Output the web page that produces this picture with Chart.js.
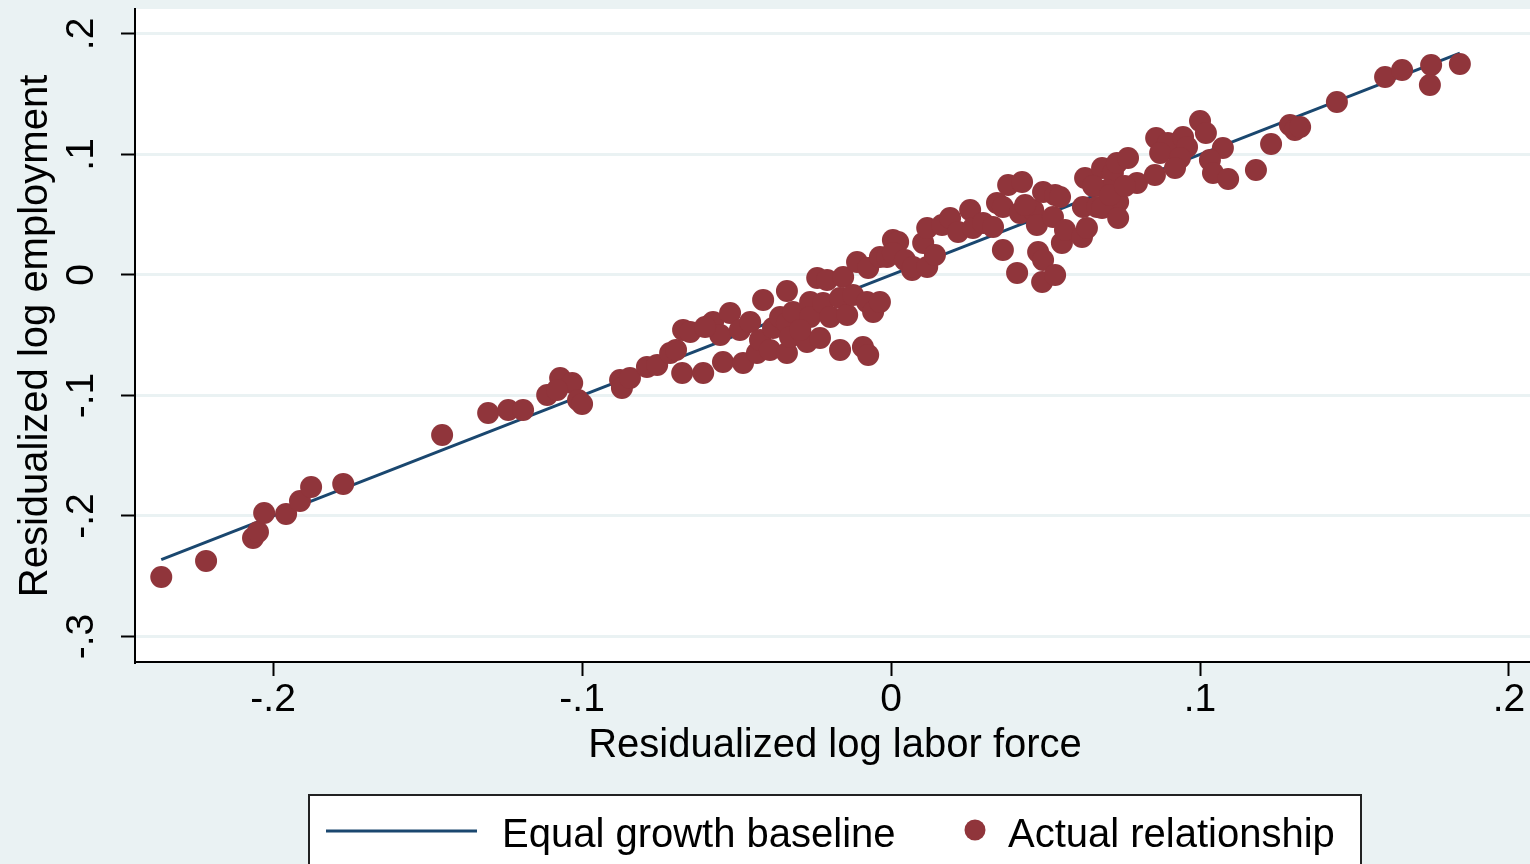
<!DOCTYPE html>
<html>
<head>
<meta charset="utf-8">
<script src="https://cdn.jsdelivr.net/npm/chart.js@4.4.1/dist/chart.umd.min.js"></script>
<style>
  html, body { margin: 0; padding: 0; background: #EAF2F3; }
  #wrap { width: 1530px; height: 864px; }
</style>
</head>
<body>
<div id="wrap"><canvas id="chart"></canvas></div>
<script>
// residualized log labor force (x) and log employment (y), one pair per point
const laborX = [
  -0.2362, -0.2217, -0.2065, -0.2049, -0.2029, -0.1958, -0.1913, -0.1877, -0.1773, -0.1453,
  -0.1304, -0.1239, -0.1191, -0.1113, -0.1071, -0.1032, -0.1081, -0.1013, -0.1000, -0.0877,
  -0.0871, -0.0845, -0.0790, -0.0757, -0.0715, -0.0676, -0.0696, -0.0673, -0.0650, -0.0608,
  -0.0586, -0.0576, -0.0553, -0.0544, -0.0521, -0.0489, -0.0479, -0.0456, -0.0434, -0.0424,
  -0.0414, -0.0392, -0.0382, -0.0359, -0.0337, -0.0337, -0.0337, -0.0327, -0.0317, -0.0272,
  -0.0262, -0.0262, -0.0239, -0.0230, -0.0220, -0.0207, -0.0197, -0.0165, -0.0165, -0.0155,
  -0.0142, -0.0123, -0.0110, -0.0091, -0.0074, -0.0074, -0.0078, -0.0058, -0.0036, -0.0036,
  0.0006, 0.0023, -0.0013, 0.0006, 0.0045, 0.0068, 0.0071, 0.0117, 0.0104, 0.0142,
  0.0117, 0.0165, 0.0191, 0.0217, 0.0256, 0.0265, 0.0298, 0.0330, 0.0343, 0.0362,
  0.0362, 0.0379, 0.0424, 0.0417, 0.0460, 0.0472, 0.0492, 0.0531, 0.0524, 0.0408,
  0.0476, 0.0492, 0.0489, 0.0531, 0.0553, 0.0563, 0.0618, 0.0634, 0.0621, 0.0547,
  0.0628, 0.0667, 0.0683, 0.0718, 0.0699, 0.0735, 0.0683, 0.0735, 0.0731, 0.0767,
  0.0796, 0.0854, 0.0858, 0.0896, 0.0871, 0.0945, 0.0958, 0.0935, 0.0919, 0.1000,
  0.1019, 0.1074, 0.1032, 0.1042, 0.1091, 0.1181, 0.1230, 0.1291, 0.1307, 0.1324,
  0.1443, 0.1599, 0.1654, 0.1748, 0.1744, 0.1841,
  -0.0602, -0.0294, 0.0654, 0.0709, 0.0757, 0.0434
];
const employY = [
  -0.2506, -0.2373, -0.2183, -0.2133, -0.1975, -0.1983, -0.1876, -0.1759, -0.1734, -0.1328,
  -0.1145, -0.1120, -0.1120, -0.0996, -0.0855, -0.0896, -0.0954, -0.1037, -0.1071, -0.0871,
  -0.0938, -0.0855, -0.0763, -0.0747, -0.0647, -0.0813, -0.0622, -0.0456, -0.0473, -0.0813,
  -0.0415, -0.0390, -0.0498, -0.0722, -0.0315, -0.0456, -0.0730, -0.0390, -0.0647, -0.0539,
  -0.0207, -0.0622, -0.0440, -0.0349, -0.0133, -0.0398, -0.0647, -0.0515, -0.0307, -0.0556,
  -0.0224, -0.0349, -0.0025, -0.0523, -0.0232, -0.0041, -0.0349, -0.0191, -0.0622, -0.0017,
  -0.0332, -0.0166, 0.0108, -0.0598, -0.0664, 0.0058, -0.0224, -0.0307, -0.0224, 0.0149,
  0.0290, 0.0274, 0.0149, 0.0183, 0.0124, 0.0041, 0.0066, 0.0066, 0.0266, 0.0166,
  0.0390, 0.0415, 0.0473, 0.0357, 0.0539, 0.0390, 0.0432, 0.0398, 0.0598, 0.0564,
  0.0207, 0.0747, 0.0772, 0.0515, 0.0539, 0.0415, 0.0689, 0.0664, 0.0481, 0.0017,
  0.0191, 0.0124, -0.0058, 0.0000, 0.0266, 0.0373, 0.0315, 0.0390, 0.0564, 0.0647,
  0.0805, 0.0564, 0.0888, 0.0846, 0.0705, 0.0606, 0.0556, 0.0473, 0.0929, 0.0971,
  0.0763, 0.0830, 0.1137, 0.1095, 0.1012, 0.1145, 0.1062, 0.0971, 0.0888, 0.1278,
  0.1178, 0.1054, 0.0954, 0.0846, 0.0797, 0.0871, 0.1087, 0.1245, 0.1203, 0.1228,
  0.1436, 0.1643, 0.1701, 0.1743, 0.1577, 0.1751,
  -0.0432, -0.0456, 0.0739, 0.0664, 0.0739, 0.0581
];

// 45 degree baseline, from smallest to largest x
const baselineX = [-0.2362, 0.1841];
const baselineY = [-0.2362, 0.1841];

const xTicks = [-0.2, -0.1, 0, 0.1, 0.2];
const yTicks = [-0.3, -0.2, -0.1, 0, 0.1, 0.2];

const xTitle = "Residualized log labor force";
const yTitle = "Residualized log employment";

const NAVY = "#1A476F";
const MAROON = "#90353B";
const BG = "#EAF2F3";
const FONT = "'Liberation Sans', Arial, Helvetica, sans-serif";

function fmt(v) {
  if (Math.abs(v) < 1e-9) return "0";
  const s = Math.abs(v).toFixed(1).replace(/^0/, "");
  return (v < 0 ? "-" : "") + s;
}

const stataLook = {
  id: "stataLook",
  beforeDraw(chart) {
    const { ctx, chartArea: a } = chart;
    ctx.save();
    ctx.fillStyle = BG;
    ctx.fillRect(0, 0, chart.width, chart.height);
    ctx.fillStyle = "#fff";
    ctx.fillRect(a.left, a.top, a.right - a.left, a.bottom - a.top);
    ctx.restore();
  },
  afterDraw(chart) {
    const { ctx } = chart;
    const xs = chart.scales.x, ys = chart.scales.y;
    ctx.save();
    ctx.fillStyle = "#000";

    // x tick labels
    ctx.font = "39px " + FONT;
    ctx.textAlign = "center";
    ctx.textBaseline = "alphabetic";
    xTicks.forEach(v => ctx.fillText(fmt(v), xs.getPixelForValue(v), 711));

    // y tick labels, turned
    yTicks.forEach(v => {
      ctx.save();
      ctx.translate(93, ys.getPixelForValue(v));
      ctx.rotate(-Math.PI / 2);
      ctx.fillText(fmt(v), 0, 0);
      ctx.restore();
    });

    // axis titles
    ctx.font = "40px " + FONT;
    ctx.fillText(xTitle, 835, 757);
    ctx.save();
    ctx.translate(47, 336);
    ctx.rotate(-Math.PI / 2);
    ctx.fillText(yTitle, 0, 0);
    ctx.restore();

    // legend box
    ctx.fillStyle = "#fff";
    ctx.fillRect(309, 795, 1052, 80);
    ctx.strokeStyle = "#222";
    ctx.lineWidth = 2;
    ctx.strokeRect(309, 795, 1052, 80);

    const ds = chart.data.datasets;
    ctx.strokeStyle = NAVY;
    ctx.lineWidth = 3;
    ctx.beginPath();
    ctx.moveTo(326, 831);
    ctx.lineTo(477, 831);
    ctx.stroke();
    ctx.fillStyle = MAROON;
    ctx.beginPath();
    ctx.arc(975, 830, 10.5, 0, Math.PI * 2);
    ctx.fill();

    ctx.fillStyle = "#000";
    ctx.font = "40px " + FONT;
    ctx.textAlign = "left";
    ctx.fillText(ds[0].label, 502, 847);
    ctx.fillText(ds[1].label, 1008, 847);
    ctx.restore();
  }
};

new Chart(document.getElementById("chart"), {
  type: "scatter",
  data: {
    datasets: [
      {
        type: "line",
        label: "Equal growth baseline",
        data: baselineX.map((x, i) => ({ x: x, y: baselineY[i] })),
        borderColor: NAVY,
        borderWidth: 3,
        pointRadius: 0,
        fill: false,
        order: 2
      },
      {
        label: "Actual relationship",
        data: laborX.map((x, i) => ({ x: x, y: employY[i] })),
        backgroundColor: MAROON,
        borderWidth: 0,
        pointRadius: 11,
        pointHoverRadius: 11,
        order: 1
      }
    ]
  },
  options: {
    responsive: true,
    maintainAspectRatio: false,
    animation: false,
    layout: { autoPadding: false, padding: { top: 9, right: 0, left: 0, bottom: 0 } },
    plugins: { legend: { display: false }, tooltip: { enabled: false } },
    scales: {
      x: {
        type: "linear",
        min: -0.2447,
        max: 0.2068,
        afterBuildTicks: s => { s.ticks = xTicks.map(v => ({ value: v })); },
        afterFit: s => { s.height = 202; },
        ticks: { display: false },
        grid: {
          color: "rgba(0,0,0,0)",
          tickColor: "#000",
          tickWidth: 2,
          tickLength: 14,
          drawOnChartArea: false
        },
        border: { color: "#000", width: 2 }
      },
      y: {
        type: "linear",
        min: -0.3212,
        max: 0.2207,
        afterBuildTicks: s => { s.ticks = yTicks.map(v => ({ value: v })); },
        afterFit: s => { s.width = 135; },
        ticks: { display: false },
        grid: {
          color: BG,
          lineWidth: 3,
          tickColor: "#000",
          tickWidth: 2,
          tickLength: 14
        },
        border: { color: "#000", width: 2 }
      }
    }
  },
  plugins: [stataLook]
});
</script>
</body>
</html>
